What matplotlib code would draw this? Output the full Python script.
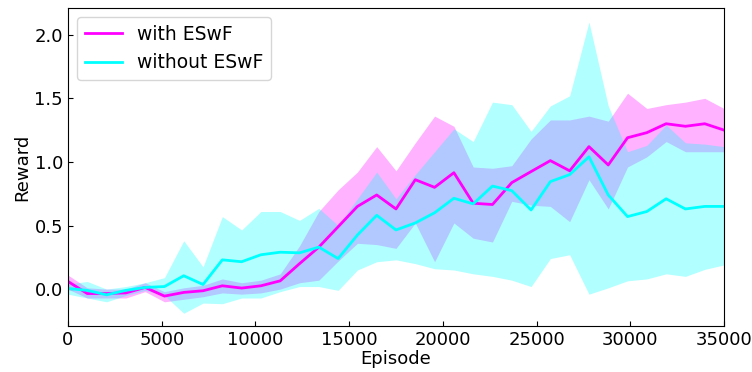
import numpy as np
import matplotlib
matplotlib.use("Agg")
import matplotlib.pyplot as plt

episodes = np.linspace(0, 35000, 35)

with_mean = [0.06, -0.035, -0.035, -0.03, 0.013, -0.055, -0.026, -0.013, 0.026, 0.008,
             0.026, 0.065, 0.2, 0.33, 0.49, 0.65, 0.74, 0.63, 0.86, 0.80,
             0.915, 0.675, 0.665, 0.837, 0.924, 1.01, 0.93, 1.12, 0.976, 1.19,
             1.23, 1.30, 1.28, 1.30, 1.25]
with_hi = [0.11, 0.01, 0.0, 0.0, 0.05, -0.02, 0.01, 0.03, 0.08, 0.05,
           0.07, 0.12, 0.34, 0.61, 0.78, 0.92, 1.12, 0.93, 1.15, 1.36,
           1.28, 0.96, 0.95, 0.97, 1.18, 1.33, 1.33, 1.36, 1.32, 1.54,
           1.42, 1.45, 1.47, 1.50, 1.42]
with_lo = [0.0, -0.07, -0.07, -0.07, -0.02, -0.1, -0.08, -0.06, -0.03, -0.04,
           -0.03, 0.0, 0.05, 0.07, 0.22, 0.36, 0.35, 0.32, 0.52, 0.215,
           0.52, 0.40, 0.37, 0.69, 0.66, 0.65, 0.53, 0.86, 0.63, 0.96,
           1.04, 1.16, 1.08, 1.08, 1.08]

without_mean = [0.005, -0.01, -0.045, -0.01, 0.013, 0.02, 0.105, 0.036, 0.23, 0.215,
                0.27, 0.29, 0.285, 0.33, 0.24, 0.425, 0.58, 0.465, 0.52, 0.60,
                0.714, 0.67, 0.81, 0.774, 0.622, 0.845, 0.90, 1.04, 0.74, 0.57,
                0.61, 0.71, 0.63, 0.65, 0.65]
without_hi = [0.04, 0.06, 0.0, 0.02, 0.05, 0.09, 0.38, 0.175, 0.57, 0.465,
              0.61, 0.61, 0.54, 0.635, 0.50, 0.71, 0.92, 0.71, 0.90, 1.08,
              1.26, 1.16, 1.47, 1.45, 1.24, 1.44, 1.52, 2.10, 1.44, 1.08,
              1.13, 1.29, 1.15, 1.14, 1.12]
without_lo = [-0.04, -0.07, -0.1, -0.05, -0.01, -0.05, -0.19, -0.11, -0.115, -0.07,
              -0.07, -0.02, 0.02, 0.02, -0.01, 0.15, 0.215, 0.23, 0.20, 0.16,
              0.15, 0.12, 0.10, 0.07, 0.02, 0.24, 0.27, -0.04, 0.01, 0.065,
              0.08, 0.12, 0.10, 0.155, 0.19]

fig = plt.figure(figsize=(7.52, 3.72), dpi=100)
ax = fig.add_axes([0.0904, 0.1237, 0.8724, 0.8548])

ax.fill_between(episodes, with_lo, with_hi, color='#ff00ff', alpha=0.3, linewidth=0)
ax.fill_between(episodes, without_lo, without_hi, color='#00ffff', alpha=0.3, linewidth=0)
ax.plot(episodes, with_mean, color='#ff00ff', lw=2, label='with ESwF')
ax.plot(episodes, without_mean, color='#00ffff', lw=2, label='without ESwF')

ax.set_xlim(0, 35000)
ax.set_ylim(-0.29, 2.21)
ax.set_yticks([0.0, 0.5, 1.0, 1.5, 2.0])
ax.set_xticks(np.arange(0, 35001, 5000))
ax.tick_params(direction='in', labelsize=13)
ax.set_xlabel('Episode', fontsize=13, labelpad=1)
ax.set_ylabel('Reward', fontsize=13, labelpad=2)
ax.legend(loc='upper left', fontsize=13.5, borderaxespad=0.5)

fig.savefig('out.png', dpi=100)
